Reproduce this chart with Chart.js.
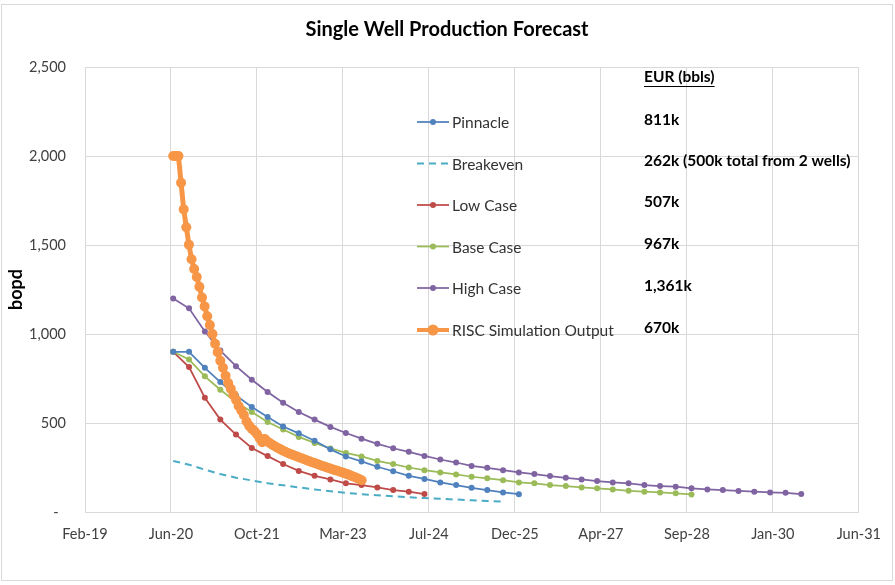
<!DOCTYPE html>
<html>
<head>
<meta charset="utf-8">
<script src="https://cdn.jsdelivr.net/npm/chart.js@4"></script>
<style>
  html, body { margin: 0; padding: 0; background: #fff; }
  #wrap { width: 895px; height: 585px; }
</style>
</head>
<body>
<div id="wrap"><canvas id="forecastChart" width="895" height="585"></canvas></div>
<script>
// x tick labels (Excel date axis, one major unit = 500 days, first at serial 43500)
const tickLabels = ['Feb-19', 'Jun-20', 'Oct-21', 'Mar-23', 'Jul-24', 'Dec-25', 'Apr-27', 'Sep-28', 'Jan-30', 'Jun-31'];

// quarterly forecasts, first point Jul 2020 (bopd)
const pinnacle = [900, 900, 810, 730, 655, 590, 534, 480, 442, 400, 352, 312, 284, 254, 229, 203, 186, 166, 151, 136, 123, 110, 100];
const breakeven = [287, 266, 238, 213, 193, 177, 162, 150, 138, 127, 117, 108, 100, 94, 88, 83, 78, 74, 70, 66, 62, 58];
const lowCase = [900, 814, 642, 519, 435, 360, 314, 270, 231, 203, 183, 161, 151, 138, 123, 114, 101];
const baseCase = [900, 857, 762, 687, 618, 562, 506, 463, 422, 388, 357, 332, 312, 287, 269, 250, 235, 222, 211, 198, 189, 179, 166, 161, 151, 146, 138, 133, 127, 119, 114, 110, 105, 99];
const highCase = [1200, 1144, 1014, 907, 819, 743, 674, 614, 562, 519, 478, 444, 412, 383, 358, 338, 315, 295, 278, 259, 248, 235, 222, 213, 202, 192, 183, 174, 166, 161, 151, 146, 142, 133, 127, 123, 118, 114, 110, 108, 101];

// RISC simulation output, twice a month from Jul 2020 (bopd)
const risc = [2000, 2000, 2000, 1850, 1700, 1600, 1502, 1420, 1365, 1320,
  1265, 1205, 1155, 1100, 1050, 1000, 945, 898, 850, 810,
  765, 725, 692, 658, 630, 596, 570, 545, 508, 485,
  468, 455, 438, 415, 392, 410, 396, 386, 376, 368,
  360, 352, 344, 337, 330, 324, 319, 313, 308, 302,
  296, 291, 285, 280, 275, 270, 264, 259, 254, 249,
  244, 239, 234, 230, 225, 220, 215, 210, 204, 198,
  192, 185, 178];

const seriesNames = ['Pinnacle', 'Breakeven', 'Low Case', 'Base Case', 'High Case', 'RISC Simulation Output'];
const eurLabels = ['811k', '262k (500k total from 2 wells)', '507k', '967k', '1,361k', '670k'];
const colors = ['#4F81BD', '#4BACC6', '#BE4B48', '#9BBB59', '#8064A2', '#F79646'];

const FONT = "Lato, 'Liberation Sans', sans-serif";

function excelSerial(y, m, d) {
  return (Date.UTC(y, m, d) - Date.UTC(1899, 11, 30)) / 86400000;
}
function quarterly(values) {
  return values.map((v, i) => ({ x: excelSerial(2020, 6 + i * 3, 1), y: v }));
}
function halfMonthly(values) {
  const start = excelSerial(2020, 6, 1);
  return values.map((v, i) => ({ x: start + i * 365.25 / 24, y: v }));
}

function lineSet(label, data, color, order) {
  return {
    label: label, data: data, order: order,
    borderColor: color, backgroundColor: color,
    borderWidth: 1.75, pointRadius: 3, pointBorderWidth: 0,
    pointBackgroundColor: color, tension: 0
  };
}

const datasets = [
  lineSet(seriesNames[0], quarterly(pinnacle), colors[0], 2),
  {
    label: seriesNames[1], data: quarterly(breakeven), order: 6,
    borderColor: colors[1], borderWidth: 2, borderDash: [7, 5],
    pointRadius: 0, tension: 0
  },
  lineSet(seriesNames[2], quarterly(lowCase), colors[2], 5),
  lineSet(seriesNames[3], quarterly(baseCase), colors[3], 4),
  lineSet(seriesNames[4], quarterly(highCase), colors[4], 3),
  {
    label: seriesNames[5], data: halfMonthly(risc), order: 0,
    borderColor: colors[5], backgroundColor: colors[5],
    borderWidth: 5, pointRadius: 5, pointBorderWidth: 0,
    pointBackgroundColor: colors[5], tension: 0
  }
];

const overlay = {
  id: 'overlay',
  beforeDraw(chart) {
    const ctx = chart.ctx;
    ctx.save();
    ctx.fillStyle = '#fff';
    ctx.fillRect(0, 0, chart.width, chart.height);
    ctx.strokeStyle = '#D9D9D9';
    ctx.lineWidth = 1;
    ctx.strokeRect(1.5, 4.5, 891, 576);
    ctx.fillStyle = '#000';
    ctx.font = 'bold 20px ' + FONT;
    ctx.textAlign = 'center';
    ctx.textBaseline = 'middle';
    ctx.fillText('Single Well Production Forecast', 447, 30);
    ctx.restore();
  },
  afterDraw(chart) {
    const ctx = chart.ctx;
    const rowsY = [122, 163.5, 205, 246.5, 288, 330];
    const eurY = [119.5, 160.5, 202, 244, 286, 327.5];
    ctx.save();
    ctx.textBaseline = 'middle';
    ctx.textAlign = 'left';
    seriesNames.forEach((name, i) => {
      const y = rowsY[i];
      const ds = chart.data.datasets[i];
      ctx.strokeStyle = colors[i];
      ctx.lineWidth = i === 5 ? 4 : ds.borderWidth;
      ctx.setLineDash(ds.borderDash || []);
      ctx.beginPath();
      ctx.moveTo(417, y);
      ctx.lineTo(449, y);
      ctx.stroke();
      ctx.setLineDash([]);
      if (ds.pointRadius) {
        ctx.fillStyle = colors[i];
        ctx.beginPath();
        ctx.arc(433, y, ds.pointRadius + (i === 5 ? 0.5 : 0), 0, Math.PI * 2);
        ctx.fill();
      }
      ctx.fillStyle = '#333';
      ctx.font = '15.5px ' + FONT;
      ctx.fillText(name, 452, y + 1);
      ctx.fillStyle = '#000';
      ctx.font = 'bold 15.5px ' + FONT;
      ctx.fillText(eurLabels[i], 644, eurY[i]);
    });
    ctx.font = 'bold 15.5px ' + FONT;
    ctx.fillText('EUR (bbls)', 644, 76.5);
    const w = ctx.measureText('EUR (bbls)').width;
    ctx.strokeStyle = '#000';
    ctx.lineWidth = 1;
    ctx.beginPath();
    ctx.moveTo(644, 86.5);
    ctx.lineTo(644 + w, 86.5);
    ctx.stroke();
    ctx.restore();
  }
};

new Chart(document.getElementById('forecastChart').getContext('2d'), {
  type: 'line',
  data: { datasets: datasets },
  options: {
    responsive: false,
    animation: false,
    devicePixelRatio: 1,
    layout: { padding: { top: 67, right: 31, left: 0, bottom: 0 } },
    plugins: { legend: { display: false }, tooltip: { enabled: false } },
    scales: {
      x: {
        type: 'linear',
        min: 43500, max: 48000,
        afterFit(scale) { scale.height = 73; },
        grid: { color: '#D9D9D9', lineWidth: 1, drawTicks: false },
        border: { color: '#D9D9D9' },
        ticks: {
          stepSize: 500, autoSkip: false, maxRotation: 0, padding: 14,
          color: '#404040', font: { family: FONT, size: 14.5 },
          callback: (v, i) => tickLabels[i]
        }
      },
      y: {
        min: 0, max: 2500,
        afterFit(scale) { scale.width = 85; },
        grid: { color: '#D9D9D9', lineWidth: 1, drawTicks: false },
        border: { color: '#D9D9D9' },
        title: {
          display: true, text: 'bopd', color: '#000',
          font: { family: FONT, size: 18, weight: 'bold' },
          padding: { top: 5, bottom: 0 }
        },
        ticks: {
          stepSize: 500, padding: 19,
          color: '#404040', font: { family: FONT, size: 14.5 },
          callback: v => (v === 0 ? '-  ' : v.toLocaleString('en-US'))
        }
      }
    }
  },
  plugins: [overlay]
});
</script>
</body>
</html>
